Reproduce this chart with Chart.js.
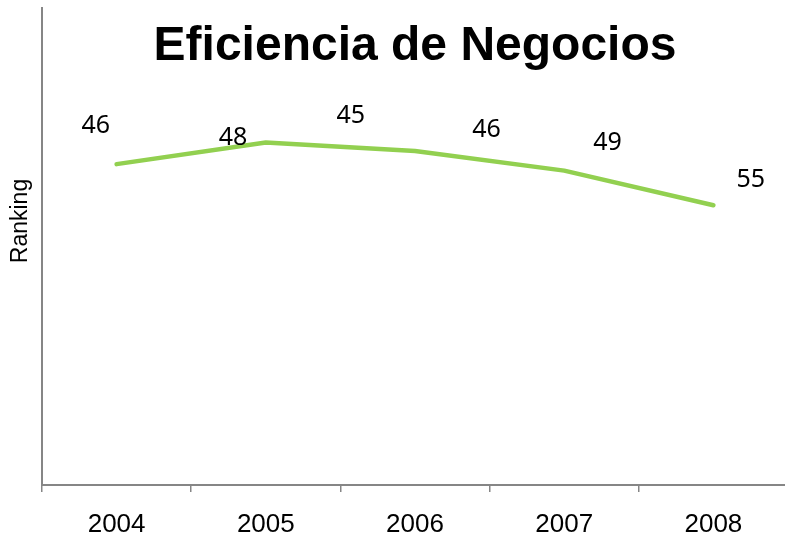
<!DOCTYPE html>
<html>
<head>
<meta charset="utf-8">
<script src="https://cdn.jsdelivr.net/npm/chart.js@4"></script>
<style>
  html, body { margin: 0; padding: 0; background: #fff; overflow: hidden; }
  #wrap { width: 788px; height: 539px; }
</style>
</head>
<body>
<div id="wrap"><canvas id="chart"></canvas></div>
<script>
// chart data
const years = ['2004', '2005', '2006', '2007', '2008'];
const ranking = [46, 41, 43, 47.5, 55.5];

// the number labels float above the line, anchored in data units
const labelText = ['46', '48', '45', '46', '49', '55'];
const labelX = [-0.14, 0.78, 1.57, 2.48, 3.29, 4.25];
const labelY = [37.2, 40, 34.9, 38.1, 41.1, 49.7];

const titleText = 'Eficiencia de Negocios';
const axisTitle = 'Ranking';

const axisGray = '#868686';

const overlayText = {
    id: 'overlayText',
    afterDatasetsDraw(chart) {
        const ctx = chart.ctx;
        const area = chart.chartArea;

        // floating value labels
        const meta = chart.getDatasetMeta(1);
        ctx.save();
        ctx.fillStyle = '#000';
        ctx.font = '25px "Noto Sans", "Open Sans", sans-serif';
        ctx.textAlign = 'center';
        ctx.textBaseline = 'middle';
        meta.data.forEach((pt, i) => {
            ctx.fillText(labelText[i], pt.x, pt.y);
        });

        // title sits inside the plot
        ctx.font = 'bold 48px "Liberation Sans", Arial, sans-serif';
        ctx.textBaseline = 'alphabetic';
        ctx.fillText(titleText, (area.left + area.right) / 2, 60);

        // y axis title
        ctx.font = '23px "Liberation Sans", Arial, sans-serif';
        ctx.translate(27, 221);
        ctx.rotate(-Math.PI / 2);
        ctx.fillText(axisTitle, 0, 0);
        ctx.restore();
    }
};

new Chart(document.getElementById('chart'), {
    type: 'line',
    data: {
        labels: years,
        datasets: [{
            data: ranking,
            borderColor: '#92D050',
            borderWidth: 4.5,
            borderCapStyle: 'round',
            borderJoinStyle: 'round',
            pointRadius: 0,
            tension: 0,
            fill: false
        }, {
            type: 'scatter',
            data: labelX.map((x, i) => ({ x: x, y: labelY[i] })),
            xAxisID: 'xl',
            pointRadius: 0,
            showLine: false
        }]
    },
    options: {
        responsive: true,
        maintainAspectRatio: false,
        animation: false,
        layout: { padding: { left: 42, top: 8, right: 0, bottom: 0 } },
        plugins: {
            legend: { display: false },
            tooltip: { enabled: false }
        },
        scales: {
            x: {
                type: 'category',
                offset: true,
                afterFit: (scale) => { scale.height = 54; },
                grid: {
                    offset: true,
                    drawOnChartArea: false,
                    tickLength: 7,
                    color: axisGray,
                    lineWidth: 1.5
                },
                border: { color: axisGray, width: 2 },
                ticks: {
                    color: '#000',
                    padding: 17,
                    font: { family: '"Liberation Sans", Arial, sans-serif', size: 26 }
                }
            },
            xl: {
                type: 'linear',
                display: false,
                min: -0.5,
                max: 4.5
            },
            y: {
                reverse: true,
                min: 10,
                max: 120,
                grid: { display: false, drawTicks: false },
                border: { color: axisGray, width: 2 },
                ticks: { display: false }
            }
        }
    },
    plugins: [overlayText]
});
</script>
</body>
</html>
